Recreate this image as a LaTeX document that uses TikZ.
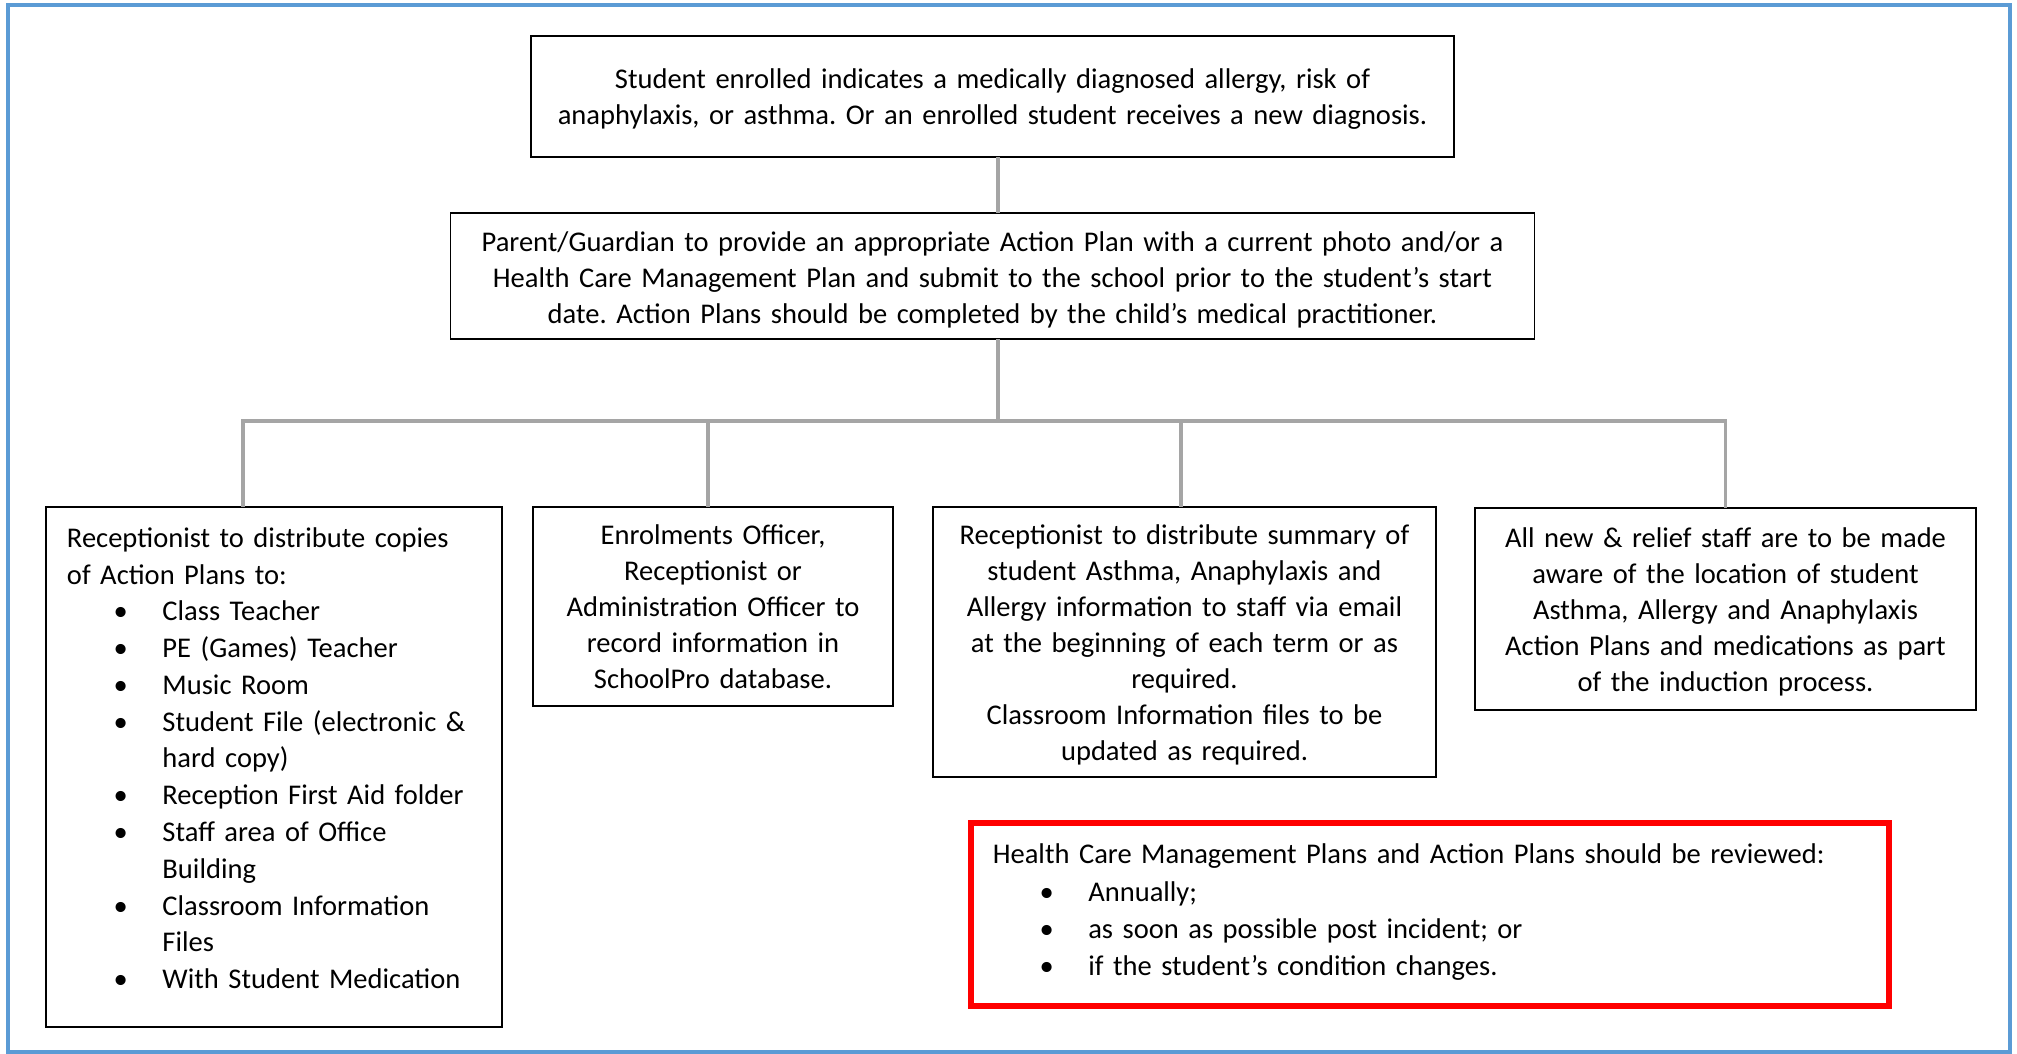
\documentclass[tikz,border=0pt]{standalone}
\usepackage{fontspec}
\setmainfont{Carlito}
\usetikzlibrary{positioning}
\definecolor{framebl}{HTML}{5B9BD5}
\definecolor{linkgray}{HTML}{A5A5A5}
\newcommand{\topstrut}{\rule{0pt}{10.6pt}}
\newcommand{\botstrut}{\rule[-3pt]{0pt}{3pt}}
\newcommand{\deepstrut}[1]{\rule[-#1]{0pt}{#1}}
\tikzset{every node/.style={inner sep=0pt, outer sep=0pt}}
\tikzset{box/.style={draw=black, line width=0.7pt, align=center,
    font=\fontsize{10.7}{13.5}\selectfont\frenchspacing,
    execute at begin node=\topstrut, execute at end node=\botstrut},
  link/.style={draw=linkgray, line width=1.4pt}}
\newcommand{\bul}{\makebox[35.8pt][l]{\hspace*{17.5pt}\textbullet}}
\newcommand{\ind}{\hspace*{35.8pt}}

\begin{document}
\begin{tikzpicture}[x=0.375pt, y=-0.375pt]
    \useasboundingbox (0,0) rectangle (2017,1054);
    \draw[framebl, line width=1.5pt] (8,5) rectangle (2010,1052);

    \node[box, minimum width=346.1pt, minimum height=45.4pt, text width=344pt] (trigger) at (992.5,96.5) {Student enrolled indicates a medically diagnosed allergy, risk of\\ anaphylaxis, or asthma. Or an enrolled student receives a new diagnosis.};
    \node[box, below=21pt of trigger, minimum width=406.5pt, minimum height=47.25pt, text width=400pt,
      execute at begin node={\rule{0pt}{11.6pt}}] (plan) {Parent/Guardian to provide an appropriate Action Plan with a current photo and/or a\\ Health Care Management Plan and submit to the school prior to the student’s start\\ date. Action Plans should be completed by the child’s medical practitioner.};

    \node[box, align=left, font=\fontsize{10.7}{13.79}\selectfont\frenchspacing, minimum width=171pt, minimum height=195pt, text width=155.25pt,
      execute at end node={\deepstrut{9.9pt}}] (rec) at (274,767) {Receptionist to distribute copies\\
      of Action Plans to:\\
      \bul Class Teacher\\
      \bul PE (Games) Teacher\\
      \bul Music Room\\
      \bul Student File (electronic \&\\
      \ind hard copy)\\
      \bul Reception First Aid folder\\
      \bul Staff area of Office\\
      \ind Building\\
      \bul Classroom Information\\
      \ind Files\\
      \bul With Student Medication};
    \node[box, minimum width=135pt, minimum height=74.6pt, text width=128pt] (enrol) at (713,606.5) {Enrolments Officer,\\ Receptionist or\\ Administration Officer to\\ record information in\\ SchoolPro database.};
    \node[box, minimum width=188.6pt, minimum height=101.25pt, text width=182pt] (summary) at (1184.5,642) {Receptionist to distribute summary of\\ student Asthma, Anaphylaxis and\\ Allergy information to staff via email\\ at the beginning of each term or as\\ required.\\ Classroom Information files to be\\ updated as required.};
    \node[box, minimum width=187.9pt, minimum height=75.75pt, text width=181pt] (staff) at (1725.5,609) {All new \& relief staff are to be made\\ aware of the location of student\\ Asthma, Allergy and Anaphylaxis\\ Action Plans and medications as part\\ of the induction process.};

    % review reminder
    \node[box, draw=red, line width=2.25pt, align=left, font=\fontsize{10.7}{14}\selectfont\frenchspacing,
      below=17.25pt of summary, xshift=92pt, minimum width=344.25pt, minimum height=68.6pt, text width=327.75pt,
      execute at end node={\deepstrut{6.5pt}}] (review) {Health Care Management Plans and Action Plans should be reviewed:\\
      \bul Annually;\\
      \bul as soon as possible post incident; or\\
      \bul if the student’s condition changes.};

    \coordinate[below=30.75pt of plan, xshift=2.1pt] (bar);
    \draw[link] ([xshift=2.1pt]trigger.south) -- ([xshift=2.1pt]plan.north);
    \draw[link] ([xshift=2.1pt]plan.south) -- (bar);
    \draw[link] ([xshift=-11.6pt]rec.north) |- (bar) -| (staff.north);
    \draw[link] ([xshift=-1.9pt]enrol.north) |- (bar);
    \draw[link] ([xshift=-1.3pt]summary.north) |- (bar);

\end{tikzpicture}
\end{document}
